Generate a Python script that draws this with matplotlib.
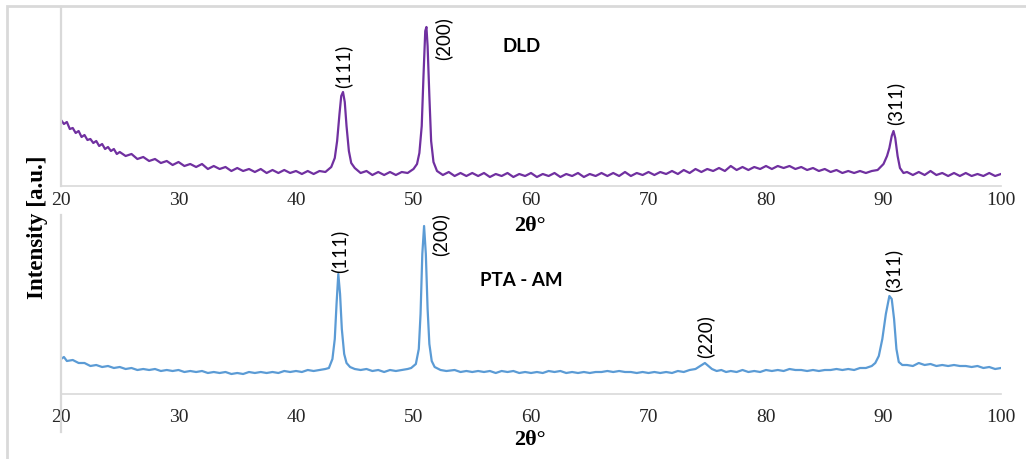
import matplotlib.pyplot as plt
from matplotlib.patches import Rectangle

# DLD pattern (2theta, intensity a.u.)
two_theta_dld = [20.0, 20.25, 20.5, 20.75, 21.0, 21.25, 21.5, 21.75, 22.0, 22.25, 22.5, 22.75,
                 23.0, 23.25, 23.5, 23.75, 24.0, 24.25, 24.5, 24.75, 25.0, 25.5, 26.0, 26.5,
                 27.0, 27.5, 28.0, 28.5, 29.0, 29.5, 30.0, 30.5, 31.0, 31.5, 32.0, 32.5, 33.0,
                 33.5, 34.0, 34.5, 35.0, 35.5, 36.0, 36.5, 37.0, 37.5, 38.0, 38.5, 39.0, 39.5,
                 40.0, 40.5, 41.0, 41.5, 42.0, 42.5, 43.0, 43.3, 43.5, 43.7, 43.85, 44.0, 44.15,
                 44.3, 44.5, 44.7, 45.0, 45.5, 46.0, 46.5, 47.0, 47.5, 48.0, 48.5, 49.0, 49.5,
                 50.0, 50.3, 50.5, 50.7, 50.85, 51.0, 51.1, 51.2, 51.35, 51.5, 51.7, 52.0, 52.5,
                 53.0, 53.5, 54.0, 54.5, 55.0, 55.5, 56.0, 56.5, 57.0, 57.5, 58.0, 58.5, 59.0,
                 59.5, 60.0, 60.5, 61.0, 61.5, 62.0, 62.5, 63.0, 63.5, 64.0, 64.5, 65.0, 65.5,
                 66.0, 66.5, 67.0, 67.5, 68.0, 68.5, 69.0, 69.5, 70.0, 70.5, 71.0, 71.5, 72.0,
                 72.5, 73.0, 73.5, 74.0, 74.5, 75.0, 75.5, 76.0, 76.5, 77.0, 77.5, 78.0, 78.5,
                 79.0, 79.5, 80.0, 80.5, 81.0, 81.5, 82.0, 82.5, 83.0, 83.5, 84.0, 84.5, 85.0,
                 85.5, 86.0, 86.5, 87.0, 87.5, 88.0, 88.5, 89.0, 89.5, 90.0, 90.3, 90.5, 90.7,
                 90.85, 91.0, 91.2, 91.4, 91.7, 92.0, 92.5, 93.0, 93.5, 94.0, 94.5, 95.0, 95.5,
                 96.0, 96.5, 97.0, 97.5, 98.0, 98.5, 99.0, 99.5, 100.0]
intensity_dld = [66, 62, 64, 57, 58, 53, 55, 49, 51, 46, 47, 43,
                 45, 40, 42, 37, 39, 35, 37, 32, 34, 30, 32, 27,
                 29, 25, 27, 23, 25, 21, 24, 20, 22, 19, 22, 17, 20,
                 17, 19, 15, 18, 15, 17, 14, 17, 13, 16, 13, 16, 13,
                 15, 12, 15, 12, 15, 14, 19, 28, 45, 72, 90, 94, 84,
                 60, 35, 23, 18, 13, 15, 11, 14, 11, 14, 11, 14, 13,
                 17, 22, 33, 60, 110, 155, 159, 140, 90, 45, 24, 15, 11,
                 14, 10, 13, 10, 13, 10, 13, 9, 12, 10, 13, 9, 12,
                 10, 13, 9, 12, 10, 13, 9, 12, 10, 13, 9, 12, 10,
                 13, 10, 13, 10, 14, 10, 13, 11, 14, 11, 14, 12, 15,
                 12, 16, 13, 17, 14, 17, 15, 18, 15, 20, 16, 19, 16,
                 19, 17, 20, 17, 20, 18, 20, 17, 19, 16, 18, 15, 17,
                 14, 16, 13, 15, 13, 15, 13, 15, 16, 22, 30, 38, 50,
                 55, 48, 30, 18, 13, 14, 11, 14, 11, 15, 11, 13, 10,
                 13, 10, 13, 10, 12, 10, 13, 10, 12]

# PTA - AM pattern
two_theta_pta = [20.0, 20.25, 20.5, 21.0, 21.5, 22.0, 22.5, 23.0, 23.5, 24.0, 24.5, 25.0, 25.5,
                 26.0, 26.5, 27.0, 27.5, 28.0, 28.5, 29.0, 29.5, 30.0, 30.5, 31.0, 31.5, 32.0,
                 32.5, 33.0, 33.5, 34.0, 34.5, 35.0, 35.5, 36.0, 36.5, 37.0, 37.5, 38.0, 38.5,
                 39.0, 39.5, 40.0, 40.5, 41.0, 41.5, 42.0, 42.5, 42.8, 43.1, 43.3, 43.45, 43.6,
                 43.75, 43.9, 44.1, 44.3, 44.6, 45.0, 45.5, 46.0, 46.5, 47.0, 47.5, 48.0, 48.5,
                 49.0, 49.5, 49.8, 50.2, 50.45, 50.6, 50.75, 50.9, 51.05, 51.2, 51.35, 51.55,
                 51.8, 52.3, 52.8, 53.5, 54.0, 54.5, 55.0, 55.5, 56.0, 56.5, 57.0, 57.5, 58.0,
                 58.5, 59.0, 59.5, 60.0, 60.5, 61.0, 61.5, 62.0, 62.5, 63.0, 63.5, 64.0, 64.5,
                 65.0, 65.5, 66.0, 66.5, 67.0, 67.5, 68.0, 68.5, 69.0, 69.5, 70.0, 70.5, 71.0,
                 71.5, 72.0, 72.5, 73.0, 73.5, 74.0, 74.4, 74.8, 75.1, 75.4, 75.8, 76.2, 76.6,
                 77.0, 77.5, 78.0, 78.5, 79.0, 79.5, 80.0, 80.5, 81.0, 81.5, 82.0, 82.5, 83.0,
                 83.5, 84.0, 84.5, 85.0, 85.5, 86.0, 86.5, 87.0, 87.5, 88.0, 88.5, 89.0, 89.3,
                 89.6, 89.9, 90.2, 90.5, 90.7, 90.9, 91.1, 91.3, 91.6, 92.0, 92.5, 93.0, 93.5,
                 94.0, 94.5, 95.0, 95.5, 96.0, 96.5, 97.0, 97.5, 98.0, 98.5, 99.0, 99.5, 100.0]
intensity_pta = [35, 37, 33, 34, 31, 31, 28, 29, 27, 28, 26, 27, 25,
                 26, 24, 25, 24, 25, 23, 24, 23, 24, 22, 23, 22, 23,
                 21, 22, 21, 22, 20, 21, 20, 22, 21, 22, 21, 22, 21,
                 23, 22, 23, 22, 24, 23, 24, 25, 26, 35, 55, 90, 120,
                 100, 65, 40, 31, 27, 25, 24, 25, 23, 24, 22, 24, 23,
                 24, 25, 26, 30, 45, 80, 140, 168, 140, 85, 50, 33,
                 27, 24, 23, 24, 22, 23, 22, 23, 22, 23, 21, 23, 22,
                 23, 21, 22, 21, 22, 21, 23, 22, 23, 21, 22, 21, 22,
                 21, 22, 22, 23, 22, 23, 22, 22, 21, 22, 21, 22, 21,
                 22, 21, 23, 22, 24, 25, 28, 31, 28, 25, 23, 24, 22,
                 23, 22, 24, 22, 23, 22, 24, 23, 24, 23, 25, 24, 24,
                 23, 24, 23, 24, 24, 25, 24, 25, 24, 26, 26, 28, 31,
                 38, 55, 80, 98, 95, 75, 45, 32, 29, 29, 28, 31, 29,
                 30, 28, 29, 28, 29, 28, 28, 27, 28, 26, 27, 25, 26]

# peak labels: (text, x, y)
peaks_dld = [("(111)", 44.0, 98), ("(200)", 52.5, 126), ("(311)", 91.0, 61)]
peaks_pta = [("(111)", 43.7, 121), ("(200)", 52.3, 138), ("(220)", 74.8, 36), ("(311)", 90.8, 102)]

xticks = [20, 30, 40, 50, 60, 70, 80, 90, 100]

W, H = 1026, 459
fig = plt.figure(figsize=(W / 100, H / 100), dpi=100)
fig.patch.set_facecolor('white')

grey = '#D9D9D9'
serif = 'Liberation Serif'
sans = 'Lato'

ax1 = fig.add_axes([61 / W, 1 - 186 / H, 940 / W, 179 / H])
ax2 = fig.add_axes([61 / W, 1 - 432 / H, 940 / W, 217 / H])

ax1.plot(two_theta_dld, intensity_dld, color='#7030A0', lw=1.6)
ax2.plot(two_theta_pta, intensity_pta, color='#5B9BD5', lw=1.6)

ax1.set_ylim(0, 179)
ax2.set_ylim(-38, 179)
ax2.spines['bottom'].set_position(('data', 0))

for ax, pad in ((ax1, 4.5), (ax2, 11)):
    ax.set_xlim(20, 100)
    ax.set_xticks(xticks)
    ax.set_yticks([])
    ax.spines['top'].set_visible(False)
    ax.spines['right'].set_visible(False)
    ax.spines['left'].set_color(grey)
    ax.spines['left'].set_linewidth(1.6)
    ax.spines['bottom'].set_color(grey)
    ax.spines['bottom'].set_linewidth(1.2)
    ax.tick_params(axis='x', length=0, pad=pad, labelsize=14, labelcolor='#262626')
    for lab in ax.get_xticklabels():
        lab.set_fontfamily(serif)
    ax.set_facecolor('none')

for txt, x, y in peaks_dld:
    ax1.text(x, y, txt, rotation=90, ha='center', va='bottom', fontsize=13.5, family=sans)
for txt, x, y in peaks_pta:
    ax2.text(x, y, txt, rotation=90, ha='center', va='bottom', fontsize=13.5, family=sans)

ax1.text(57.6, 139, 'DLD', fontsize=13.5, fontweight='bold', family=sans, va='center', ha='left')
ax2.text(55.7, 113, 'PTA - AM', fontsize=13.5, fontweight='bold', family=sans, va='center', ha='left')

fig.text(530 / W, 1 - 226 / H, '2θ°', ha='center', va='center', fontsize=16,
         fontweight='bold', family=serif)
fig.text(530 / W, 1 - 440 / H, '2θ°', ha='center', va='center', fontsize=16,
         fontweight='bold', family=serif)
fig.text(38 / W, 1 - 227 / H, 'Intensity [a.u.]', rotation=90, ha='center', va='center',
         fontsize=16.5, fontweight='bold', family=serif)

fig.patches.append(Rectangle((7 / W, -0.1), 1.1, 1.1 - 6 / H, transform=fig.transFigure,
                             fill=False, edgecolor=grey, lw=2, clip_on=False))

plt.savefig('out.png', dpi=100)
